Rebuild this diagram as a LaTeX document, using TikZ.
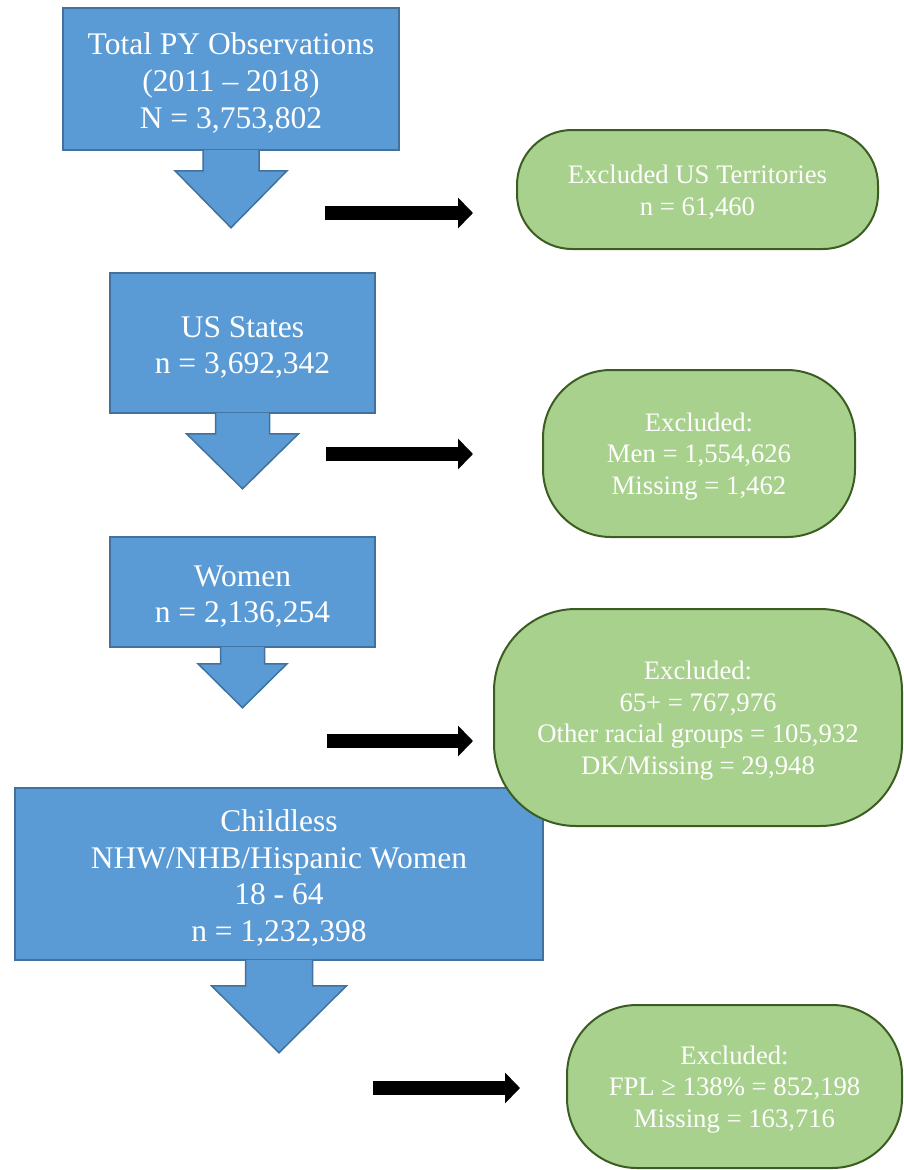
\documentclass[tikz,border=0pt]{standalone}
\usepackage{fontspec}
\setmainfont{Liberation Serif}
\usetikzlibrary{arrows.meta}
\definecolor{boxblue}{HTML}{5B9BD5}
\definecolor{boxblueline}{HTML}{41719C}
\definecolor{boxgreen}{HTML}{A9D18E}
\definecolor{boxgreenline}{HTML}{3B5D21}
\begin{document}
\begin{tikzpicture}[x=1pt,y=-1pt,line join=miter]
	\tikzset{bluebox/.style={rectangle,draw=boxblueline,fill=boxblue,line width=1.5pt,text=white,align=center,inner sep=0pt,font=\fontsize{31.5}{36.7}\selectfont},
		bluetail/.style={draw=boxblueline,fill=boxblue,line width=1.5pt},
		greenbox/.style={rectangle,draw=boxgreenline,fill=boxgreen,line width=2pt,text=white,align=center,inner sep=0pt,font=\fontsize{26.7}{31.5}\selectfont},
		bigarrow/.style={line width=14pt,-{Triangle[length=15pt,width=30pt]}}}
	\useasboundingbox (0,0) rectangle (903,1170);
	% blue boxes
	\node[bluebox,minimum width=336pt,minimum height=142pt] (obs) at (231,79) {\rule{0pt}{30pt}Total PY Observations\\(2011 -- 2018)\\N = 3,753,802};
	\node[bluebox,minimum width=265pt,minimum height=140pt] (states) at (242.5,343) {\rule{0pt}{30pt}US States\\n = 3,692,342};
	\node[bluebox,minimum width=265pt,minimum height=110pt] (women) at (242.5,592) {\rule{0pt}{30pt}Women\\n = 2,136,254};
	\node[bluebox,minimum width=528pt,minimum height=172pt] (child) at (279,874) {\rule{0pt}{30pt}Childless\\NHW/NHB/Hispanic Women\\18 - 64\\n = 1,232,398};
	% arrow tails under the blue boxes
	\foreach \b/\sw/\sl/\hw/\hl in {obs/28/20/56/57,states/27/20/56/55,women/22/16/44.5/44,child/33.5/25/67.5/67}
	\filldraw[bluetail] ([xshift=-\sw pt,yshift=1pt]\b.south) -- ++(0,\sl+1) -- ++(\sw-\hw,0) -- ++(\hw,\hl) -- ++(\hw,-\hl) -- ++(\sw-\hw,0) -- ([xshift=\sw pt,yshift=1pt]\b.south);
	% black arrows
	\foreach \n/\xa/\xb/\y in {1/325/473/213,2/326/473/454,3/327/473/741,4/373/520/1088}{
		\coordinate (from\n) at (\xa,\y);
		\coordinate (to\n) at (\xb,\y);
		\draw[bigarrow] (from\n) -- (to\n);
	}
	% excluded
	\node[greenbox,minimum width=361pt,minimum height=119pt,rounded corners=55pt] (terr) at (697.5,189.5) {\rule{0pt}{24.5pt}Excluded US Territories\\n = 61,460};
	\node[greenbox,minimum width=312pt,minimum height=167pt,rounded corners=68pt] (men) at (699,453.5) {\rule{0pt}{24.5pt}Excluded:\\Men = 1,554,626\\Missing = 1,462};
	\node[greenbox,minimum width=408pt,minimum height=217pt,rounded corners=82pt] (race) at (698,717.5) {\rule{0pt}{24.5pt}Excluded:\\65+ = 767,976\\Other racial groups = 105,932\\DK/Missing = 29,948};
	\node[greenbox,minimum width=335pt,minimum height=163pt,rounded corners=70pt] (fpl) at (734.5,1086.5) {\rule{0pt}{24.5pt}Excluded:\\FPL ≥ 138\% = 852,198\\Missing = 163,716};
\end{tikzpicture}
\end{document}
